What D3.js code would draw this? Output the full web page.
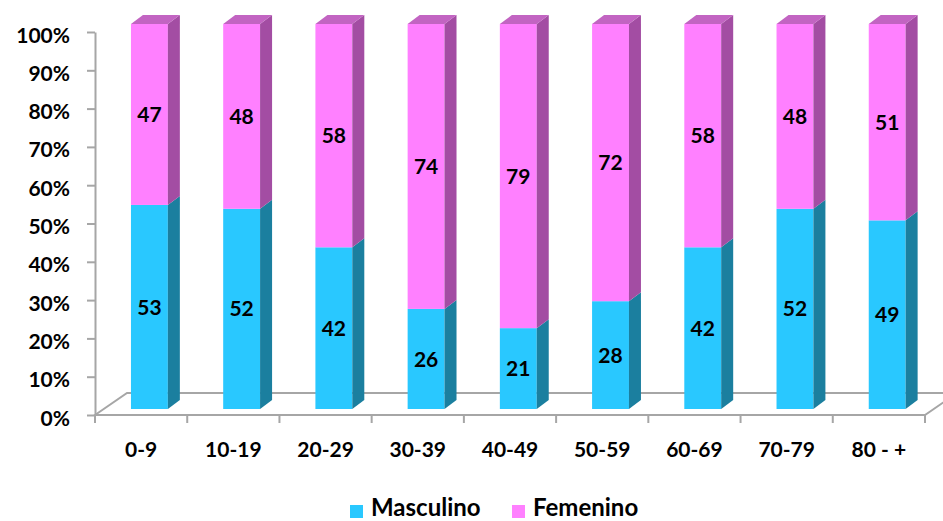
<!DOCTYPE html>
<html>
<head>
<meta charset="utf-8">
<script src="https://cdn.jsdelivr.net/npm/d3@7"></script>
<style>
  body { margin: 0; background: #fff; }
  text { font-family: Lato, "Open Sans", sans-serif; font-weight: bold; fill: #000; }
</style>
</head>
<body>
<div id="chart"></div>
<script>
// data
var categories = ["0-9", "10-19", "20-29", "30-39", "40-49", "50-59", "60-69", "70-79", "80 - +"];
var masculino = [53, 52, 42, 26, 21, 28, 42, 52, 49];
var femenino = [47, 48, 58, 74, 79, 72, 58, 48, 51];
var yTicks = [0, 10, 20, 30, 40, 50, 60, 70, 80, 90, 100];
var seriesNames = ["Masculino", "Femenino"];

drawChart();

function drawChart() {
    var width = 943, height = 521;
    var plot = { left: 95, right: 925, top: 32, bottom: 415 };
    var floorDx = 32, floorDy = -22;   // floor depth
    var barDx = 12, barDy = -9;        // bar depth
    var barLift = 6;                   // bars sit a bit behind the front edge

    var colors = {
        Masculino: { front: "#29c8ff", side: "#1b7f9f", top: "#5fd6ff" },
        Femenino: { front: "#ff80ff", side: "#a34da3", top: "#c264c2" }
    };

    var svg = d3.select("#chart").append("svg")
        .attr("width", width)
        .attr("height", height);

    var x = d3.scaleBand()
        .domain(categories)
        .range([plot.left, plot.right]);

    var y = d3.scaleLinear()
        .domain([0, 100])
        .range([plot.bottom, plot.top]);

    var yBar = d3.scaleLinear()
        .domain([0, 100])
        .range([plot.bottom - barLift, plot.top - barLift - 2]);

    // floor
    var gridColor = "#a6a6a6";
    svg.append("path")
        .attr("d", "M" + plot.left + "," + plot.bottom +
            "L" + (plot.left + floorDx) + "," + (plot.bottom + floorDy) +
            "L" + (plot.right + floorDx) + "," + (plot.bottom + floorDy) +
            "L" + plot.right + "," + plot.bottom + "Z")
        .attr("fill", "none")
        .attr("stroke", gridColor)
        .attr("stroke-width", 2);

    // y axis
    var yAxis = svg.append("g")
        .attr("transform", "translate(" + plot.left + ",0)")
        .call(d3.axisLeft(y).tickValues(yTicks).tickSize(8).tickSizeOuter(0)
            .tickFormat(function (d) { return d + "%"; }));
    yAxis.select(".domain").attr("stroke", gridColor).attr("stroke-width", 2);
    yAxis.selectAll(".tick line").attr("stroke", gridColor).attr("stroke-width", 2);
    yAxis.selectAll(".tick text")
        .attr("x", -25)
        .attr("dy", "0.48em")
        .attr("font-size", "21px")
        .style("font-family", "Lato, sans-serif")
        .style("font-weight", "bold")
        .attr("fill", "#000");

    // x axis ticks + labels
    var xAxis = svg.append("g")
        .attr("transform", "translate(0," + plot.bottom + ")")
        .call(d3.axisBottom(x).tickSize(0).tickSizeOuter(0));
    xAxis.select(".domain").remove();
    xAxis.selectAll(".tick text")
        .attr("dy", 0)
        .attr("y", 42)
        .attr("font-size", "21px")
        .style("font-family", "Lato, sans-serif")
        .style("font-weight", "bold")
        .attr("fill", "#000");

    var bounds = categories.map(function (c) { return x(c); }).concat([x.range()[1]]);
    svg.selectAll(".xtick")
        .data(bounds)
        .enter().append("line")
        .attr("class", "xtick")
        .attr("x1", function (d) { return d; })
        .attr("x2", function (d) { return d; })
        .attr("y1", plot.bottom)
        .attr("y2", plot.bottom + 8)
        .attr("stroke", gridColor)
        .attr("stroke-width", 2);

    // stacked segments
    var rows = categories.map(function (c, i) {
        return { cat: c, Masculino: masculino[i], Femenino: femenino[i] };
    });
    var stack = d3.stack().keys(seriesNames)(rows);

    var barW = x.bandwidth() * 0.4;
    var barOff = x.bandwidth() * 0.39;

    var bars = svg.selectAll(".bar")
        .data(rows)
        .enter().append("g")
        .attr("class", "bar");

    bars.each(function (row, i) {
        var g = d3.select(this);
        var x0 = x(row.cat) + barOff;
        var x1 = x0 + barW;
        stack.forEach(function (layer, k) {
            var seg = layer[i];
            var yt = yBar(seg[1]), yb = yBar(seg[0]);
            var col = colors[layer.key];
            g.append("rect")
                .attr("x", x0)
                .attr("y", yt)
                .attr("width", barW)
                .attr("height", yb - yt)
                .attr("fill", col.front);
            g.append("polygon")
                .attr("points", [
                    [x1, yt], [x1 + barDx, yt + barDy],
                    [x1 + barDx, yb + barDy], [x1, yb]
                ].join(" "))
                .attr("fill", col.side);
            if (k === stack.length - 1) {
                g.append("polygon")
                    .attr("points", [
                        [x0, yt], [x0 + barDx, yt + barDy],
                        [x1 + barDx, yt + barDy], [x1, yt]
                    ].join(" "))
                    .attr("fill", col.top);
            }
            g.append("text")
                .attr("x", (x0 + x1) / 2)
                .attr("y", (yt + yb) / 2)
                .attr("dy", "0.36em")
                .attr("text-anchor", "middle")
                .attr("font-size", "21px")
                .text(row[layer.key]);
        });
    });

    // legend
    var legend = svg.append("g").attr("class", "legend");
    var legX = [350, 512];
    seriesNames.forEach(function (name, k) {
        legend.append("rect")
            .attr("x", legX[k])
            .attr("y", 505)
            .attr("width", 13)
            .attr("height", 13)
            .attr("fill", colors[name].front);
        legend.append("text")
            .attr("x", legX[k] + 21)
            .attr("y", 516)
            .attr("font-size", "24px")
            .text(name);
    });
}
</script>
</body>
</html>
